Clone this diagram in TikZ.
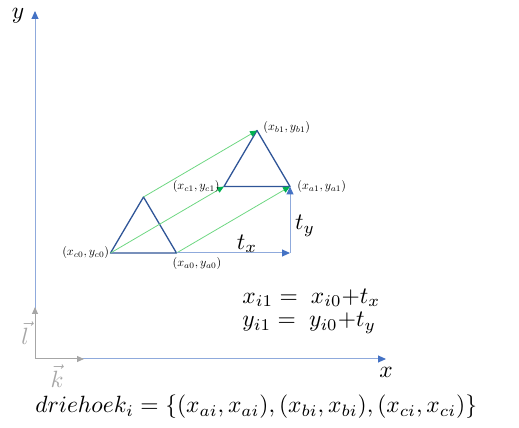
\documentclass[tikz,border=0pt]{standalone}
\usetikzlibrary{arrows.meta}
\definecolor{axisline}{RGB}{143,170,220}
\definecolor{axistip}{RGB}{68,114,196}
\definecolor{trianglecol}{RGB}{47,85,151}
\definecolor{moveline}{RGB}{110,215,130}
\definecolor{movetip}{RGB}{0,176,80}
\definecolor{basecol}{RGB}{166,166,166}
\tikzset{
  axis/.style={axisline, line width=1pt, -{Triangle[length=8pt,width=7pt,color=axistip]}},
  basevec/.style={basecol, line width=1pt, -{Triangle[length=7pt,width=6pt]}},
  triangle/.style={trianglecol, line width=1.3pt, line join=round},
  move/.style={moveline, line width=0.8pt, -{Triangle[length=7pt,width=6pt,color=movetip]}},
  lbl/.style={inner sep=1pt, scale=1.2},
  big/.style={inner sep=0pt, scale=2.35}
}
\begin{document}
\begin{tikzpicture}[x=1pt,y=1pt]
  \useasboundingbox (0,0) rectangle (519,428);

  % assen
  \coordinate (O) at (35,69);
  \coordinate (ytip) at (35,417);
  \coordinate (xtip) at (386,69);
  \draw[axis] (O) -- (ytip);
  \draw[axis] (O) -- (xtip);
  \node[big] (ylabel) at (18,412) {$y$};
  \node[big] (xlabel) at (386,56) {$x$};

  % basisvectoren
  \coordinate (ltip) at (35,121);
  \coordinate (ktip) at (84,69);
  \draw[basevec] (O) -- (ltip);
  \draw[basevec] (O) -- (ktip);
  \node[big, basecol] (llabel) at (25,95) {$\vec{l}$};
  \node[big, basecol] (klabel) at (57,52) {$\vec{k}$};

  % driehoeken
  \coordinate (c0) at (110.5,175);
  \coordinate (a0) at (176.5,175);
  \coordinate (b0) at (143.5,231);
  \coordinate (c1) at (224,241.5);
  \coordinate (a1) at (290,241.5);
  \coordinate (b1) at (257,297.5);
  \coordinate (t) at (290,175);
  \draw[triangle] (c0) -- (a0) -- (b0) -- cycle;
  \draw[triangle] (c1) -- (a1) -- (b1) -- cycle;

  % verschuiving
  \draw[move] (b0) -- (b1);
  \draw[move] (c0) -- (c1);
  \draw[move] (a0) -- (a1);
  \draw[axis] (a0) -- (t);
  \draw[axis] (t) -- (a1);
  \node[big] (tx) at (247,184) {$t_x$};
  \node[big] (ty) at (305,202) {$t_y$};

  \node[lbl, anchor=east] (lc0) at (c0) {$(x_{c0},y_{c0})$};
  \node[lbl, anchor=north] (la0) at (197,172) {$(x_{a0},y_{a0})$};
  \node[lbl, anchor=east] (lc1) at (221,241.5) {$(x_{c1},y_{c1})$};
  \node[lbl, anchor=west] (la1) at (296,241.5) {$(x_{a1},y_{a1})$};
  \node[lbl, anchor=west] (lb1) at (262,300) {$(x_{b1},y_{b1})$};

  % formules
  \node[big, anchor=west] (fx) at (242,130) {$x_{i1} = \;x_{i0}{+}t_x$};
  \node[big, anchor=west] (fy) at (242,105) {$y_{i1} = \;y_{i0}{+}t_y$};
  \node[big, anchor=west] (fd) at (35,21)
    {$driehoek_i = \{(x_{ai},x_{ai}),(x_{bi},x_{bi}),(x_{ci},x_{ci})\}$};
\end{tikzpicture}
\end{document}
